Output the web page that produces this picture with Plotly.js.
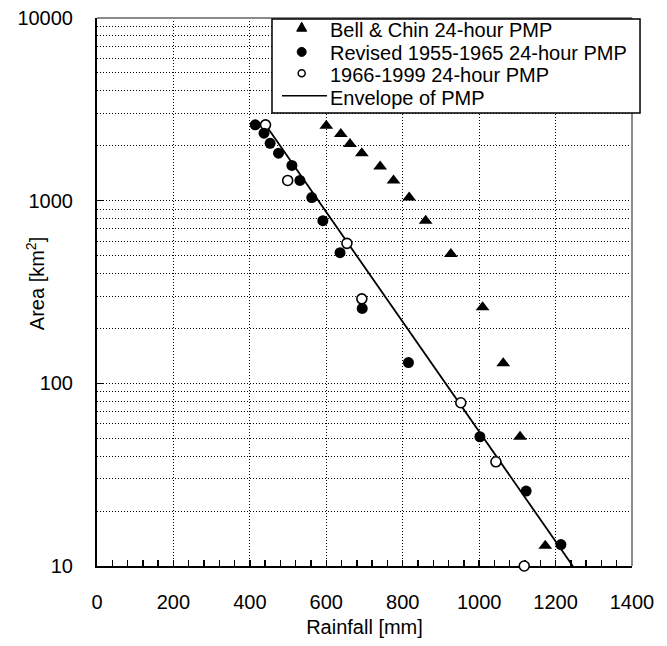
<!DOCTYPE html>
<html>
<head>
<meta charset="utf-8">
<script src="https://cdn.plot.ly/plotly-3.0.1.min.js"></script>
<style>html,body{margin:0;padding:0;background:#fff;}#chart{width:667px;height:646px;}</style>
</head>
<body>
<div id="chart"></div>
<script>
// Bell & Chin 24-hour PMP
const bellX = [600, 638, 662, 693, 741, 776, 817, 860, 926, 1009, 1063, 1107, 1173];
const bellY = [2570, 2320, 2040, 1820, 1540, 1290, 1040, 777, 511, 261, 129, 51, 12.9];
// Revised 1955-1965 24-hour PMP
const revX = [414, 437, 453, 475, 510, 531, 562, 591, 636, 694, 815, 1002, 1123, 1214];
const revY = [2600, 2340, 2060, 1820, 1560, 1290, 1040, 777, 519, 257, 130, 51, 25.7, 13.1];
// 1966-1999 24-hour PMP
const newX = [441, 499, 654, 693, 952, 1044, 1118];
const newY = [2600, 1290, 584, 290, 78.3, 37.2, 10];
// Envelope of PMP
const envX = [441, 1245];
const envY = [2600, 10];

const seriesNames = ["Bell & Chin 24-hour PMP", "Revised 1955-1965 24-hour PMP", "1966-1999 24-hour PMP", "Envelope of PMP"];
const yTickVals = [10, 100, 1000, 10000];
const yTickText = ["10", "100", "1000", "10000"];

const FONT = "Liberation Sans, Arial, Helvetica, sans-serif";
const DOTS = "1px,2px";

const traces = [
  {x: envX, y: envY, mode: "lines", line: {color: "#000", width: 1.8}, name: seriesNames[3], showlegend: false},
  {x: bellX, y: bellY, mode: "markers", marker: {symbol: "triangle-up", size: 12, color: "#000"}, name: seriesNames[0], showlegend: false, cliponaxis: false},
  {x: newX, y: newY, mode: "markers", marker: {symbol: "circle", size: 10, color: "#fff", line: {color: "#000", width: 1.6}}, name: seriesNames[2], showlegend: false, cliponaxis: false},
  {x: revX, y: revY, mode: "markers", marker: {symbol: "circle", size: 11, color: "#000"}, name: seriesNames[1], showlegend: false, cliponaxis: false}
];

// legend geometry (paper units)
const lgX0 = 0.3271, lgX1 = 1.015, lgY0 = 0.8266, lgY1 = 0.9982;
const symX = 0.3826, txtX = 0.4318;
const rowY = [0.9772, 0.9361, 0.8951, 0.8540];

const shapes = [
  {type: "line", xref: "paper", yref: "paper", x0: 1, x1: 1, y0: 0, y1: 1, line: {color: "#8a8a8a", width: 2}},
  {type: "line", xref: "paper", yref: "paper", x0: 0, x1: 1, y0: 1, y1: 1, line: {color: "#8a8a8a", width: 2}},
  {type: "rect", xref: "paper", yref: "paper", x0: lgX0, x1: lgX1, y0: lgY0, y1: lgY1, fillcolor: "#fff", line: {color: "#000", width: 1.5}, layer: "above"},
  {type: "path", xref: "paper", yref: "paper", xsizemode: "pixel", ysizemode: "pixel", xanchor: symX, yanchor: rowY[0] + 0.006, path: "M -5 -4 L 5 -4 L 0 5 Z", fillcolor: "#000", line: {color: "#000", width: 1}},
  {type: "circle", xref: "paper", yref: "paper", xsizemode: "pixel", ysizemode: "pixel", xanchor: symX, yanchor: rowY[1] + 0.002, x0: -4.5, x1: 4.5, y0: -4.5, y1: 4.5, fillcolor: "#000", line: {color: "#000", width: 1}},
  {type: "circle", xref: "paper", yref: "paper", xsizemode: "pixel", ysizemode: "pixel", xanchor: symX, yanchor: rowY[2] + 0.004, x0: -3.5, x1: 3.5, y0: -3.5, y1: 3.5, fillcolor: "#fff", line: {color: "#000", width: 1.5}},
  {type: "line", xref: "paper", yref: "paper", x0: 0.3458, x1: 0.4299, y0: rowY[3] + 0.004, y1: rowY[3] + 0.004, line: {color: "#000", width: 1.5}}
];

const annotations = seriesNames.map((t, i) => ({
  text: t, xref: "paper", yref: "paper", x: txtX, y: rowY[i], xanchor: "left", yanchor: "middle",
  showarrow: false, font: {family: FONT, size: 20, color: "#000"}
}));
annotations.push({
  text: "Area [km<sup>2</sup>]", xref: "paper", yref: "paper", x: -0.116, y: 0.516, textangle: -90,
  xanchor: "center", yanchor: "middle", showarrow: false, font: {family: FONT, size: 20, color: "#000"}
});

const layout = {
  width: 667, height: 646,
  margin: {l: 97, r: 35, t: 18, b: 80, pad: 0},
  paper_bgcolor: "#fff", plot_bgcolor: "#fff",
  font: {family: FONT, size: 20, color: "#000"},
  showlegend: false,
  xaxis: {
    range: [0, 1400], dtick: 200, tick0: 0, autorange: false,
    showline: true, linecolor: "#000", linewidth: 2,
    ticks: "inside", ticklen: 6, tickwidth: 1.5, tickcolor: "#000",
    minor: {dtick: 40, tick0: 0, ticks: "inside", ticklen: 6, tickwidth: 1.5, tickcolor: "#000", showgrid: false},
    showgrid: true, gridcolor: "#000", griddash: DOTS, gridwidth: 1,
    zeroline: false, layer: "below traces",
    ticklabelstandoff: 17,
    tickfont: {family: FONT, size: 20},
    title: {text: "Rainfall [mm]", font: {family: FONT, size: 20}, standoff: 8},
    automargin: false
  },
  yaxis: {
    type: "log", range: [1, 4], autorange: false,
    tickvals: yTickVals, ticktext: yTickText,
    showline: true, linecolor: "#000", linewidth: 2,
    ticks: "inside", ticklen: 6, tickwidth: 1.5, tickcolor: "#000",
    showgrid: true, gridcolor: "#000", griddash: DOTS, gridwidth: 1,
    minor: {dtick: "D1", showgrid: true, gridcolor: "#000", griddash: DOTS, gridwidth: 1, ticks: ""},
    zeroline: false, layer: "below traces",
    ticklabelstandoff: 18,
    tickfont: {family: FONT, size: 20},
    automargin: false
  },
  shapes: shapes,
  annotations: annotations
};

Plotly.newPlot("chart", traces, layout, {displayModeBar: false, staticPlot: true});
</script>
</body>
</html>
